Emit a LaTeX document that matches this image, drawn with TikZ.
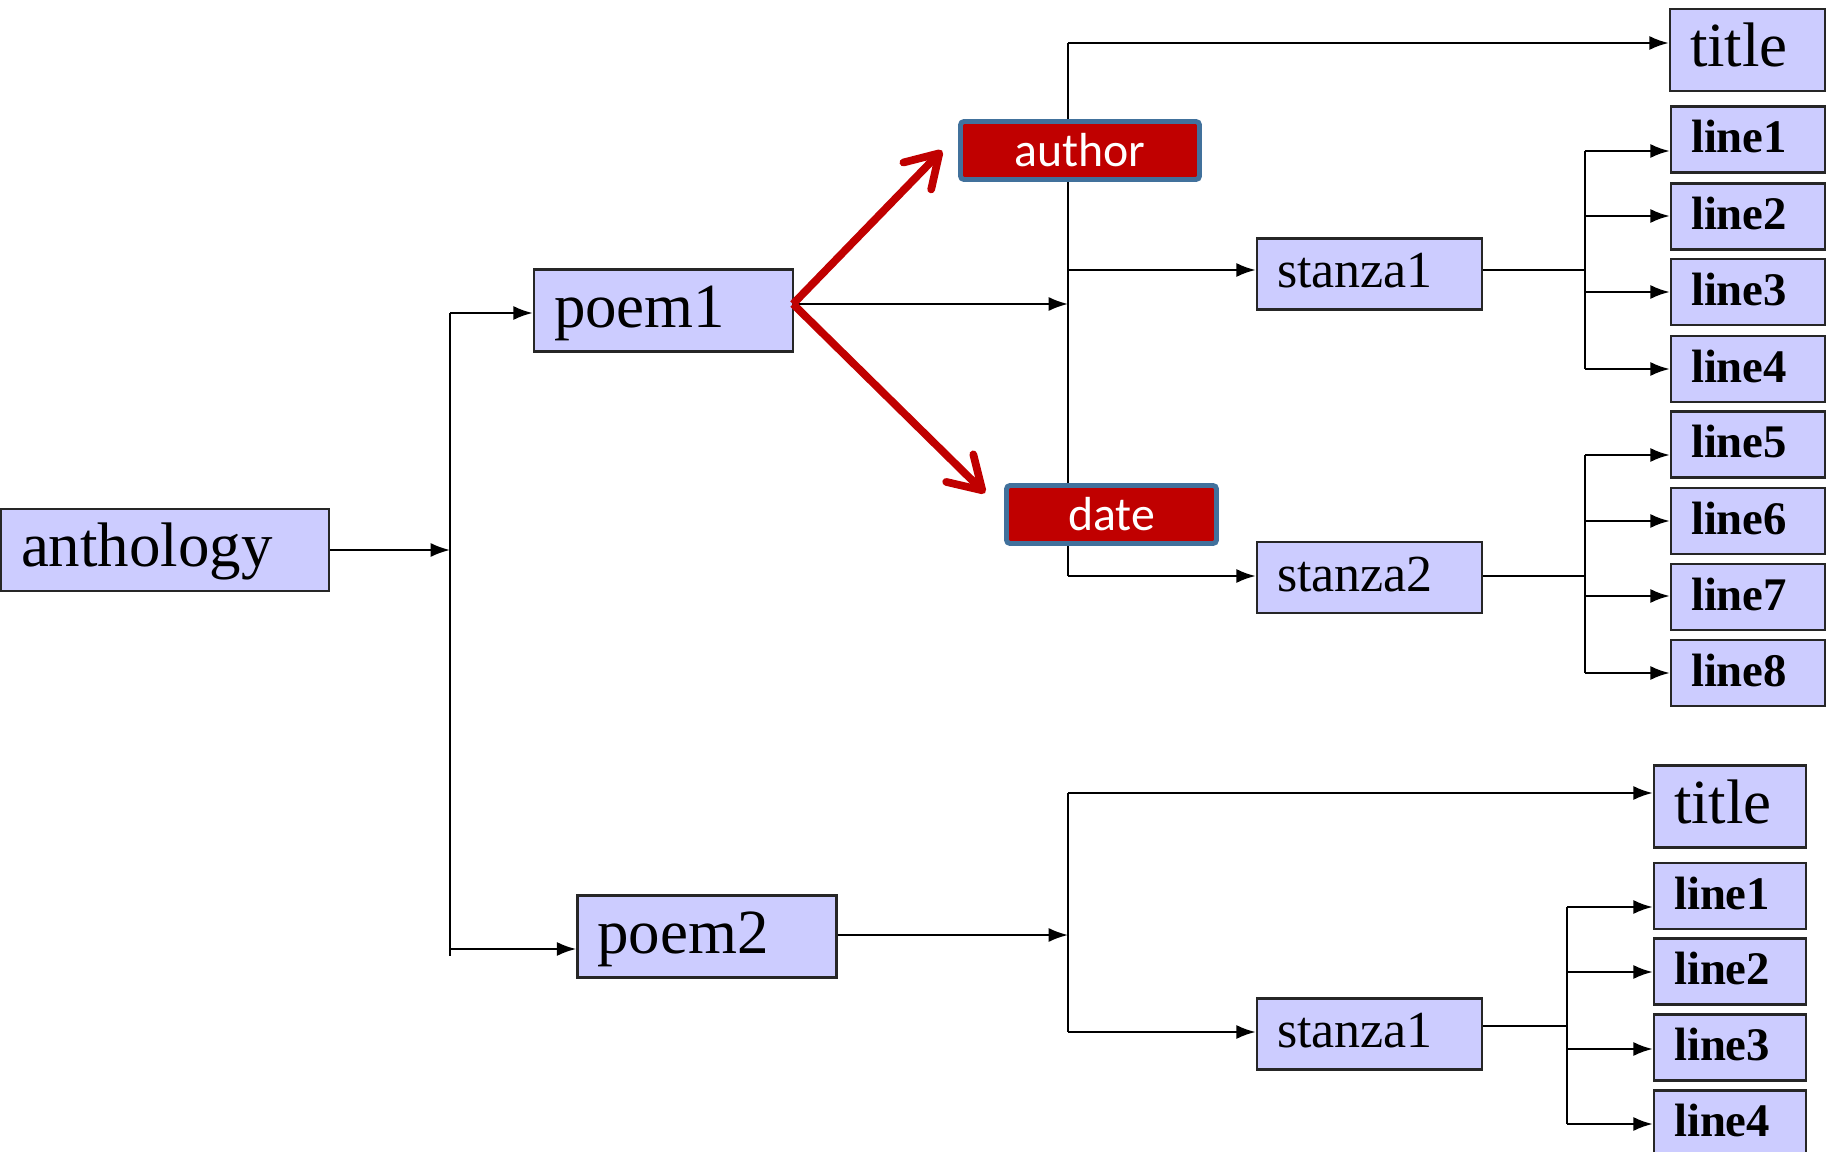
\documentclass[tikz,border=0pt]{standalone}
\usepackage{fontspec}
\setmainfont{Liberation Serif}
\newfontfamily\flagfont{Carlito}
\usetikzlibrary{arrows.meta}
\definecolor{boxfill}{HTML}{CCCCFF}
\definecolor{flagred}{HTML}{C00000}
\definecolor{flagedge}{HTML}{41719C}
\tikzset{
	xml tree/.cd,
	box/.style = {
		draw = black!85,
		line width = 0.75pt,
		fill = boxfill,
		inner xsep = 0.2cm,
		inner ysep = 0pt,
		align = left,
		text depth = 0.2em
	},
	big/.style = {
		xml tree/box,
		font = \fontsize{17.9}{20}\selectfont,
		text height = 1.15em,
		minimum height = 0.82cm
	},
	stanza/.style = {
		xml tree/box,
		font = \fontsize{14.8}{17}\selectfont,
		text height = 0.98em,
		text width = 1.85cm,
		minimum height = 0.71cm
	},
	line/.style = {
		xml tree/box,
		font = \fontsize{13.3}{16}\selectfont\bfseries,
		text height = 0.94em,
		text width = 1.14cm,
		minimum height = 0.66cm
	},
	flag/.style = {
		fill = flagred,
		draw = flagedge,
		line width = 1.4pt,
		rounded corners = 1pt,
		text = white,
		font = \flagfont\fontsize{13.6}{16}\selectfont,
		minimum height = 0.58cm
	},
}

\begin{document}
\begin{tikzpicture}[
		link/.style = {draw = black, line width = 0.6pt},
		to box/.style = {link, -{Latex[length = 5.5pt, width = 4pt]}},
		pointer/.style = {
			draw = flagred,
			line width = 2.2pt,
			-{Straight Barb[length = 9pt, width = 11pt, round]}
		}]
		\useasboundingbox (0, 0) rectangle (18.32, -11.52);

		% root and poems
		\node[xml tree/big, text width = 2.88cm] (anthology) at (1.65, -5.50) {anthology};
		\node[xml tree/big, text width = 2.19cm] (poem1) at (6.635, -3.105) {poem1};
		\node[xml tree/big, text width = 2.19cm] (poem2) at (7.07, -9.365) {poem2};

		\coordinate (a1) at (4.50, -5.50);
		\coordinate (p1) at (4.50, -3.13);
		\coordinate (p2) at (4.50, -9.49);
		\coordinate (a1end) at (4.50, -9.56);
		\draw[link] (p1) -- (a1end);
		\draw[to box] (anthology.east) -- (a1);
		\draw[to box] (p1) -- (poem1.west |- p1);
		\draw[to box] (p2) -- (poem2.west |- p2);

		% first poem
		\node[xml tree/big, text width = 1.15cm] (title1) at (17.475, -0.50) {title};
		\node[xml tree/stanza] (stanza1) at (13.695, -2.74) {stanza1};
		\node[xml tree/stanza] (stanza2) at (13.695, -5.775) {stanza2};
		\foreach \i/\y in {1/1.395, 2/2.165, 3/2.92, 4/3.69, 5/4.445, 6/5.21, 7/5.97, 8/6.73}
			\node[xml tree/line] (la\i) at (17.48, -\y) {line\i};

		\coordinate (fork) at (7.93, -3.04);
		\coordinate (q1) at (10.68, -3.04);
		\coordinate (t1) at (10.68, -0.43);
		\coordinate (s1) at (10.68, -2.70);
		\coordinate (s2) at (10.68, -5.76);
		\draw[link] (t1) -- (s2);
		\draw[to box] (fork) -- (q1);
		\draw[to box] (t1) -- (title1.west |- t1);
		\draw[to box] (s1) -- (stanza1.west |- s1);
		\draw[to box] (s2) -- (stanza2.west |- s2);

		\coordinate (j1) at (15.85, -2.70);
		\draw[link] (stanza1.east |- j1) -- (j1);
		\foreach \i/\y in {1/1.51, 2/2.16, 3/2.92, 4/3.69} {
			\coordinate (k\i) at (15.85, -\y);
			\draw[to box] (k\i) -- (la\i.west |- k\i);
		}
		\draw[link] (k1) -- (k4);

		\coordinate (j2) at (15.85, -5.76);
		\draw[link] (stanza2.east |- j2) -- (j2);
		\foreach \i/\y in {5/4.55, 6/5.21, 7/5.96, 8/6.73} {
			\coordinate (k\i) at (15.85, -\y);
			\draw[to box] (k\i) -- (la\i.west |- k\i);
		}
		\draw[link] (k5) -- (k8);

		% second poem
		\node[xml tree/big, text width = 1.12cm] (title2) at (17.30, -8.065) {title};
		\node[xml tree/stanza] (stanza3) at (13.695, -10.34) {stanza1};
		\foreach \i/\y in {1/8.96, 2/9.715, 3/10.475, 4/11.235}
			\node[xml tree/line, text width = 1.12cm] (lb\i) at (17.30, -\y) {line\i};

		\coordinate (q2) at (10.68, -9.35);
		\coordinate (t2) at (10.68, -7.93);
		\coordinate (s3) at (10.68, -10.32);
		\draw[link] (t2) -- (s3);
		\draw[to box] (poem2.east |- q2) -- (q2);
		\draw[to box] (t2) -- (title2.west |- t2);
		\draw[to box] (s3) -- (stanza3.west |- s3);

		\coordinate (j3) at (15.67, -10.26);
		\draw[link] (stanza3.east |- j3) -- (j3);
		\foreach \i/\y in {1/9.07, 2/9.72, 3/10.49, 4/11.24} {
			\coordinate (m\i) at (15.67, -\y);
			\draw[to box] (m\i) -- (lb\i.west |- m\i);
		}
		\draw[link] (m1) -- (m4);

		% added elements
		\node[xml tree/flag, minimum width = 2.39cm] (author) at (10.80, -1.505) {author};
		\node[xml tree/flag, minimum width = 2.10cm] (date) at (11.115, -5.145) {date};
		\draw[pointer] (fork) -- ([xshift = -1.6mm]author.west);
		\draw[pointer] (fork) -- ([xshift = -1.9mm, yshift = -1mm]date.north west);
	\end{tikzpicture}
\end{document}
